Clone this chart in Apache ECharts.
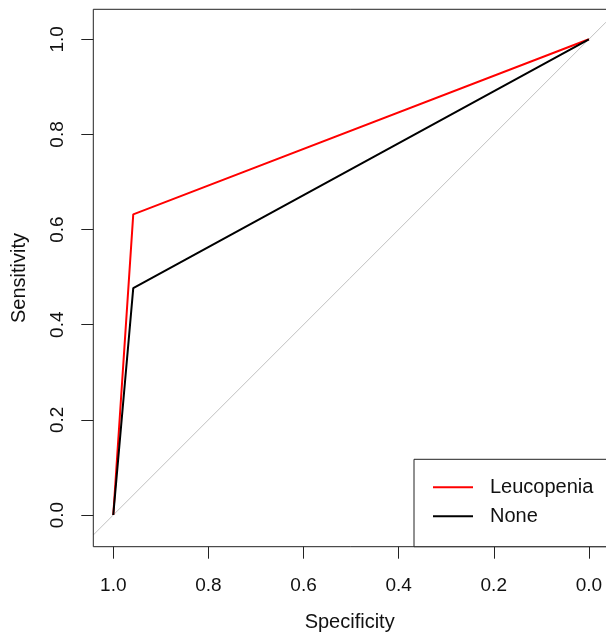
<!DOCTYPE html>
<html>
<head>
<meta charset="utf-8">
<script src="https://cdn.jsdelivr.net/npm/echarts@6/dist/echarts.min.js"></script>
<style>
html,body{margin:0;padding:0;background:#fff;}
#chart{width:606px;height:639px;}
</style>
</head>
<body>
<div id="chart"></div>
<script>
// Data
const seriesNames = ['Leucopenia', 'None'];
const specLeucopenia = [1.0, 0.958, 0.0];
const sensLeucopenia = [0.0, 0.632, 1.0];
const specNone = [1.0, 0.958, 0.0];
const sensNone = [0.0, 0.477, 1.0];
const xTicks = [0, 0.2, 0.4, 0.6, 0.8, 1.0];
const yTicks = [0, 0.2, 0.4, 0.6, 0.8, 1.0];

// Axis extents (visible plot region; the frame continues past the page's right edge)
const X_MIN = -0.036, X_MAX = 1.042;
const Y_MIN = -0.0666, Y_MAX = 1.063;

const pairs = (xs, ys) => xs.map((x, i) => [x, ys[i]]);
const diag = [[X_MAX, 1 - X_MAX], [X_MIN, 1 - X_MIN]];

// Layout
const G_LEFT = 93.3, G_TOP = 9.3, G_BOTTOM_PX = 546.7, W = 606, H = 639;

const FONT = 'Liberation Sans, Arial, sans-serif';
const chart = echarts.init(document.getElementById('chart'), null, {renderer: 'canvas'});
chart.setOption({
  animation: false,
  backgroundColor: '#fff',
  grid: {
    left: G_LEFT, top: G_TOP, right: 0, bottom: H - G_BOTTOM_PX,
    show: false
  },
  xAxis: {
    type: 'value', inverse: true, min: X_MIN, max: X_MAX, position: 'bottom',
    splitLine: {show: false},
    axisLine: {show: false, onZero: false},
    axisTick: {show: true, inside: false, length: 12, customValues: xTicks, lineStyle: {color: '#222', width: 1}},
    axisLabel: {customValues: xTicks, margin: 30, fontSize: 19, fontFamily: FONT, color: '#111',
      formatter: v => v.toFixed(1)},
    name: 'Specificity', nameLocation: 'middle', nameGap: 66,
    nameTextStyle: {fontSize: 20, fontFamily: FONT, color: '#111'}
  },
  yAxis: {
    type: 'value', min: Y_MIN, max: Y_MAX, position: 'left',
    splitLine: {show: false},
    axisLine: {show: false, onZero: false},
    axisTick: {show: true, inside: false, length: 12, customValues: yTicks, lineStyle: {color: '#222', width: 1}},
    axisLabel: {customValues: yTicks, margin: 26, rotate: 90, fontSize: 19, fontFamily: FONT, color: '#111',
      formatter: v => v.toFixed(1)},
    name: 'Sensitivity', nameLocation: 'middle', nameGap: 64,
    nameTextStyle: {fontSize: 20, fontFamily: FONT, color: '#111'}
  },
  graphic: [
    {
      type: 'polyline', z: 80, silent: true,
      shape: {points: [[W + 5, G_TOP], [G_LEFT, G_TOP], [G_LEFT, G_BOTTOM_PX], [W + 5, G_BOTTOM_PX]]},
      style: {fill: null, stroke: '#222', lineWidth: 1}
    },
    {
      type: 'rect', z: 90, silent: true,
      shape: {x: 414, y: 459.3, width: 220, height: G_BOTTOM_PX - 459.3},
      style: {fill: '#fff', stroke: '#222', lineWidth: 1}
    }
  ],
  legend: {
    show: true, orient: 'vertical', left: 414, top: 459.3, z: 100,
    padding: [18, 10, 18, 19],
    itemGap: 9, itemWidth: 40, itemHeight: 2,
    borderWidth: 0, backgroundColor: 'transparent',
    icon: 'rect',
    data: seriesNames,
    textStyle: {fontSize: 20, fontFamily: FONT, color: '#111', padding: [0, 0, 0, 12]}
  },
  series: [
    {
      name: 'diagonal', type: 'line', data: diag, symbol: 'none', silent: true,
      lineStyle: {color: '#c0c0c0', width: 1}, z: 1
    },
    {
      name: seriesNames[0], type: 'line', data: pairs(specLeucopenia, sensLeucopenia), symbol: 'none',
      lineStyle: {color: '#ff0000', width: 2}, itemStyle: {color: '#ff0000'}, z: 2
    },
    {
      name: seriesNames[1], type: 'line', data: pairs(specNone, sensNone), symbol: 'none',
      lineStyle: {color: '#000000', width: 2}, itemStyle: {color: '#000000'}, z: 3
    }
  ]
});
</script>
</body>
</html>
